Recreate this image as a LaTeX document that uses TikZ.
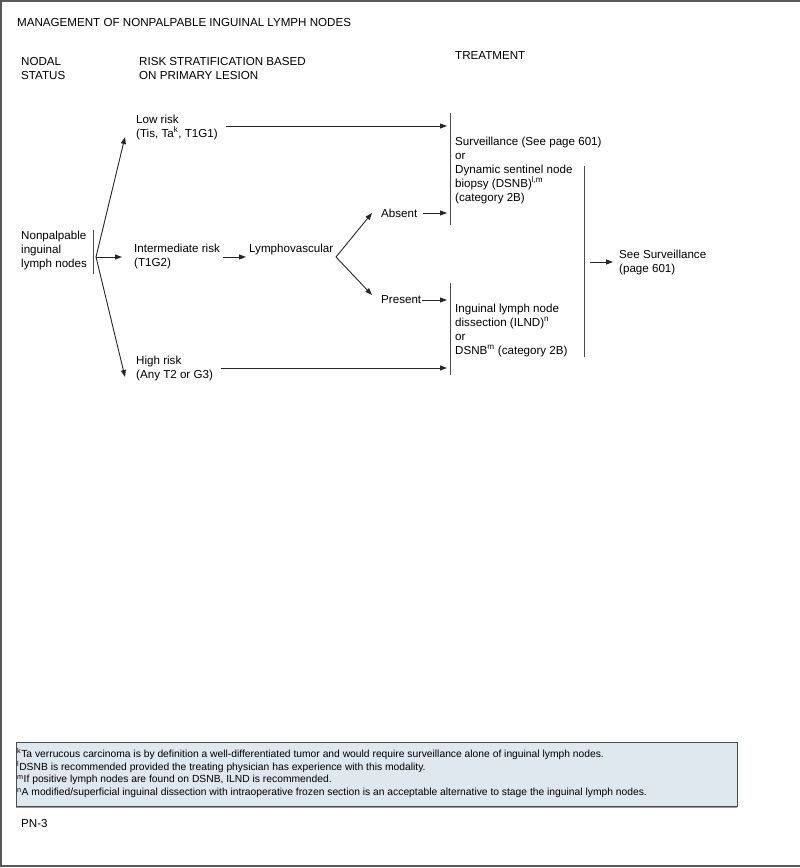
\documentclass[tikz,border=0pt]{standalone}
\usepackage{fontspec}
\setmainfont{Liberation Sans}
\usetikzlibrary{positioning,arrows.meta}

\begin{document}
\begin{tikzpicture}[
        x=1pt, y=-1pt,
        txt/.style={anchor=west, align=left, inner sep=0pt, font=\fontsize{11.6}{14}\selectfont},
        note/.style={anchor=west, align=left, inner sep=0pt, font=\fontsize{10.3}{13}\selectfont},
        arr/.style={-{Triangle[length=7pt,width=5pt]}, line width=0.9pt, draw=black!85},
        bar/.style={line width=0.9pt, draw=black!70}
    ]
        \useasboundingbox (0,0) rectangle (800,868);
        \draw[line width=2pt, draw=black!65] (800,1) -- (1,1) -- (1,866) -- (800,866);

        % headings
        \node[txt] (title) at (17,23) {MANAGEMENT OF NONPALPABLE INGUINAL LYMPH NODES};
        \node[txt] (nodal) at (21,69) {NODAL\\STATUS};
        \node[txt] (risk) at (139,69) {RISK STRATIFICATION BASED\\ON PRIMARY LESION};
        \node[txt] (treat) at (455,56) {TREATMENT};

        % flow
        \node[txt] (nonpalp) at (21,250) {Nonpalpable\\inguinal\\lymph nodes};
        \node[txt] (low) at (136,127) {Low risk\\(Tis, Ta\textsuperscript{k}, T1G1)};
        \node[txt] (inter) at (134,256) {Intermediate risk\\(T1G2)};
        \node[txt] (high) at (136,368) {High risk\\(Any T2 or G3)};
        \node[txt] (lymph) at (249,249) {Lymphovascular};
        \node[txt] (absent) at (381,213) {Absent};
        \node[txt] (present) at (381,300) {Present};
        \node[txt] (surv) at (455,170) {Surveillance (See page 601)\\or\\Dynamic sentinel node\\biopsy (DSNB)\textsuperscript{l,m}\\(category 2B)};
        \node[txt] (ilnd) at (455,330) {Inguinal lymph node\\dissection (ILND)\textsuperscript{n}\\or\\DSNB\textsuperscript{m} (category 2B)};
        \node[txt] (seesurv) at (619,262) {See Surveillance\\(page 601)};

        % brackets
        \coordinate (nbarT) at (93,230);
        \coordinate (nbarB) at (93,274);
        \coordinate (fork) at (96,257);
        \coordinate (sbarT) at (450,113);
        \coordinate (sbarB) at (450,225);
        \coordinate (ibarT) at (450,283);
        \coordinate (ibarB) at (450,375);
        \coordinate (rbarT) at (584,166);
        \coordinate (rbarB) at (584,357);
        \draw[bar] (nbarT) -- (nbarB);
        \draw[bar] (sbarT) -- (sbarB);
        \draw[bar] (ibarT) -- (ibarB);
        \draw[bar] (rbarT) -- (rbarB);

        \coordinate (lowin) at (125,137);
        \coordinate (interin) at (122,257);
        \coordinate (highin) at (125,377);
        \draw[arr] (fork) -- (lowin);
        \draw[arr] (fork) -- (interin);
        \draw[arr] (fork) -- (highin);

        \coordinate (interout) at (223,257);
        \coordinate (lymphin) at (246,257);
        \draw[arr] (interout) -- (lymphin);

        \coordinate (lymfork) at (336,257);
        \coordinate (absin) at (372,213);
        \coordinate (presin) at (372,295);
        \draw[arr] (lymfork) -- (absin);
        \draw[arr] (lymfork) -- (presin);

        \coordinate (lowout) at (226,126);
        \coordinate (lowto) at (447,126);
        \coordinate (absout) at (423,213);
        \coordinate (absto) at (447,213);
        \coordinate (presout) at (422,300);
        \coordinate (presto) at (447,300);
        \coordinate (highout) at (221,368);
        \coordinate (highto) at (447,368);
        \coordinate (rout) at (590,262);
        \coordinate (rto) at (613,262);
        \draw[arr] (lowout) -- (lowto);
        \draw[arr] (absout) -- (absto);
        \draw[arr] (presout) -- (presto);
        \draw[arr] (highout) -- (highto);
        \draw[arr] (rout) -- (rto);

        % footnotes
        \node[draw=black!70, line width=0.8pt, fill={rgb,255:red,223;green,232;blue,238}, minimum width=721pt, minimum height=64pt, inner sep=0pt] (notes) at (376.5,774) {};
        \draw[line width=1.5pt, draw=black!40] ([yshift=-1pt]notes.south west) -- ([yshift=-1pt]notes.south east);
        \node[note] (n1) at (17,754) {\textsuperscript{k}Ta verrucous carcinoma is by definition a well-differentiated tumor and would require surveillance alone of inguinal lymph nodes.};
        \node[note] (n2) at (17,767) {\textsuperscript{l}DSNB is recommended provided the treating physician has experience with this modality.};
        \node[note] (n3) at (17,780) {\textsuperscript{m}If positive lymph nodes are found on DSNB, ILND is recommended.};
        \node[note] (n4) at (17,793) {\textsuperscript{n}A modified/superficial inguinal dissection with intraoperative frozen section is an acceptable alternative to stage the inguinal lymph nodes.};

        \node[txt] (pn) at (21,823) {PN-3};
    \end{tikzpicture}
\end{document}
